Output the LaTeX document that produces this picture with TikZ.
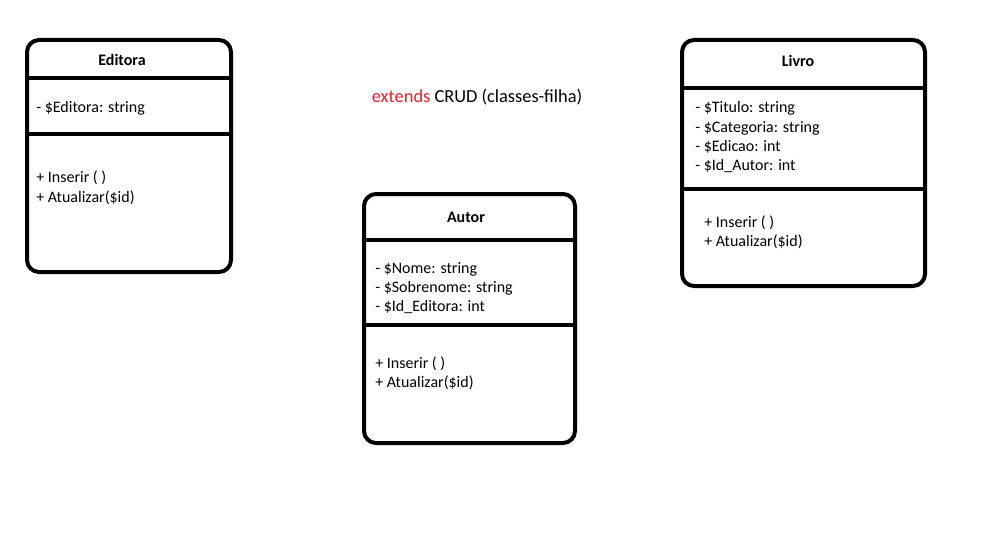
\documentclass[tikz,border=0pt]{standalone}
\usepackage{fontspec}
\setmainfont{Carlito}
\definecolor{paintred}{RGB}{237,28,36}
\begin{document}
\begin{tikzpicture}[x=0.75pt,y=-0.75pt,
  classbox/.style={draw=black,line width=3pt,rounded corners=9pt},
  divider/.style={draw=black,line width=3pt},
  cname/.style={font=\fontsize{12}{14}\selectfont\bfseries,anchor=base,inner sep=0pt},
  member/.style={font=\fontsize{12}{14}\selectfont,anchor=base west,inner sep=0pt},
  heading/.style={font=\fontsize{13.8}{16}\selectfont,anchor=base,inner sep=0pt}]
\useasboundingbox (0,0) rectangle (995,535);
% Editora
\draw[classbox] (27,40) rectangle (231,272);
\draw[divider] (27,78) -- (231,78);
\draw[divider] (27,134) -- (231,134);
\node[cname] (editora) at (122,65) {Editora};
\node[member] (editoraA1) at (36,113) {- \$Editora: string};
\node[member] (editoraM1) at (36,182) {+ Inserir ( )};
\node[member] (editoraM2) at (36,202) {+ Atualizar(\$id)};
% Autor
\draw[classbox] (364,194) rectangle (575,443);
\draw[divider] (364,240) -- (575,240);
\draw[divider] (364,325) -- (575,325);
\node[cname] (autor) at (466,222) {Autor};
\node[member] (autorA1) at (375,273) {- \$Nome: string};
\node[member] (autorA2) at (375,292) {- \$Sobrenome: string};
\node[member] (autorA3) at (375,311) {- \$Id\_Editora: int};
\node[member] (autorM1) at (375,368) {+ Inserir ( )};
\node[member] (autorM2) at (375,387) {+ Atualizar(\$id)};
% Livro
\draw[classbox] (682,40) rectangle (925,286);
\draw[divider] (682,88) -- (925,88);
\draw[divider] (682,189) -- (925,189);
\node[cname] (livro) at (798,67) {Livro};
\node[member] (livroA1) at (695,113) {- \$Titulo: string};
\node[member] (livroA2) at (695,132) {- \$Categoria: string};
\node[member] (livroA3) at (695,151) {- \$Edicao: int};
\node[member] (livroA4) at (695,170) {- \$Id\_Autor: int};
\node[member] (livroM1) at (704,227) {+ Inserir ( )};
\node[member] (livroM2) at (704,246) {+ Atualizar(\$id)};
% heading
\node[heading] (crud) at (477,103) {\textcolor{paintred}{extends} CRUD (classes-filha)};
\end{tikzpicture}
\end{document}
